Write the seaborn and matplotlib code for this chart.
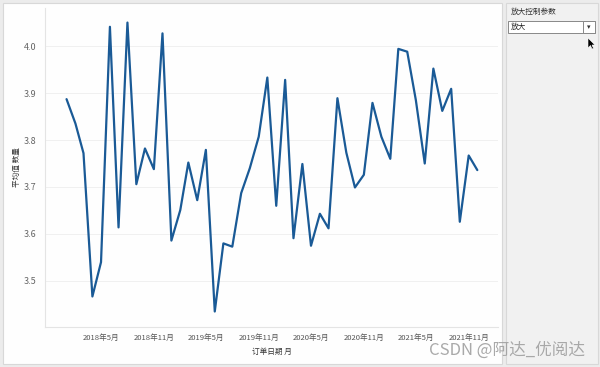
import pandas as pd
import seaborn as sns
import matplotlib.pyplot as plt
from matplotlib.patches import Rectangle, Polygon

# 平均值 数量, 2018年1月 - 2021年12月
months = pd.date_range('2018-01-01', periods=48, freq='MS')
avg_qty = [3.887, 3.835, 3.772, 3.467, 3.540, 4.041, 3.614, 4.050, 3.706, 3.782,
           3.738, 4.027, 3.586, 3.651, 3.752, 3.672, 3.779, 3.435, 3.580, 3.573,
           3.687, 3.740, 3.807, 3.933, 3.660, 3.928, 3.591, 3.749, 3.575, 3.643,
           3.612, 3.889, 3.773, 3.699, 3.726, 3.879, 3.807, 3.760, 3.994, 3.988,
           3.885, 3.750, 3.952, 3.862, 3.909, 3.626, 3.767, 3.736]
tick_months = pd.to_datetime(['2018-05-01', '2018-11-01', '2019-05-01', '2019-11-01',
                              '2020-05-01', '2020-11-01', '2021-05-01', '2021-11-01'])
tick_labels = [f'{d.year}年{d.month}月' for d in tick_months]
y_ticks = [3.5, 3.6, 3.7, 3.8, 3.9, 4.0]

df = pd.DataFrame({'订单日期 月': months, '平均值 数量': avg_qty})

sns.set_style('white')
plt.rcParams['font.family'] = ['Noto Sans CJK SC', 'DejaVu Sans']

fig = plt.figure(figsize=(6, 3.67), dpi=100)
fig.patch.set_facecolor('#ececec')

# 主面板和右侧参数面板 (放在最底层)
fig.patches.append(Rectangle((3/600, 3/367), 499/600, 361/367, transform=fig.transFigure,
                             facecolor='#fefefe', edgecolor='#d8d8d8', lw=0.8, zorder=-10))
fig.patches.append(Rectangle((506/600, 3/367), 92/600, 361/367, transform=fig.transFigure,
                             facecolor='#f1f1f1', edgecolor='#d8d8d8', lw=0.8, zorder=-10))

ax = fig.add_axes([45/600, 1 - 327/367, 453/600, 319/367])
ax.set_facecolor('none')
sns.lineplot(data=df, x='订单日期 月', y='平均值 数量', ax=ax, color='#1a5a96', lw=1.6)

ax.set_ylim(3.402, 4.081)
ax.set_xlim(pd.Timestamp('2017-10-18'), pd.Timestamp('2022-02-11'))
ax.set_yticks(y_ticks)
ax.set_yticklabels([f'{v:.1f}' for v in y_ticks])
ax.set_xticks(tick_months)
ax.set_xticklabels(tick_labels)
ax.tick_params(axis='y', labelsize=6.5, colors='#666666', length=0, pad=6)
ax.tick_params(axis='x', labelsize=5.5, colors='#555555', length=0, pad=5)
ax.grid(axis='y', color='#f0f0f0', lw=0.7)
for s in ['top', 'right']:
    ax.spines[s].set_visible(False)
for s in ['left', 'bottom']:
    ax.spines[s].set_color('#e4e4e4')
    ax.spines[s].set_linewidth(0.8)
ax.set_xlabel('订单日期 月', fontsize=5.5, color='#333333', labelpad=4)
ax.set_ylabel('平均值 数量', fontsize=5.5, color='#333333', labelpad=2)

# 参数控件
fig.text(511/600, 1 - 12/367, '放大控制参数', fontsize=5.5, color='#333333', va='center')
fig.patches.append(Rectangle((508/600, 1 - 33/367), 87/600, 12/367, transform=fig.transFigure,
                             facecolor='white', edgecolor='#888888', lw=0.7))
fig.patches.append(Rectangle((583/600, 1 - 33/367), 12/600, 12/367, transform=fig.transFigure,
                             facecolor='white', edgecolor='#888888', lw=0.7))
fig.text(511/600, 1 - 27/367, '放大', fontsize=5.5, color='#222222', va='center')
fig.text(589/600, 1 - 27/367, '▾', fontsize=5, color='#333333', va='center', ha='center',
         family='DejaVu Sans')
cursor = [(588, 38), (588, 48), (590.5, 45.5), (592, 49), (593.5, 48.3), (592, 45), (595, 45)]
fig.patches.append(Polygon([(x/600, 1 - y/367) for x, y in cursor], closed=True,
                           transform=fig.transFigure, facecolor='black', edgecolor='white', lw=0.4))

fig.text(585/600, 1 - 350/367, 'CSDN @阿达_优阅达', fontsize=12, color='#a0a0a0',
         ha='right', va='center', alpha=0.9)

fig.savefig('out.png', dpi=100, facecolor=fig.get_facecolor())
